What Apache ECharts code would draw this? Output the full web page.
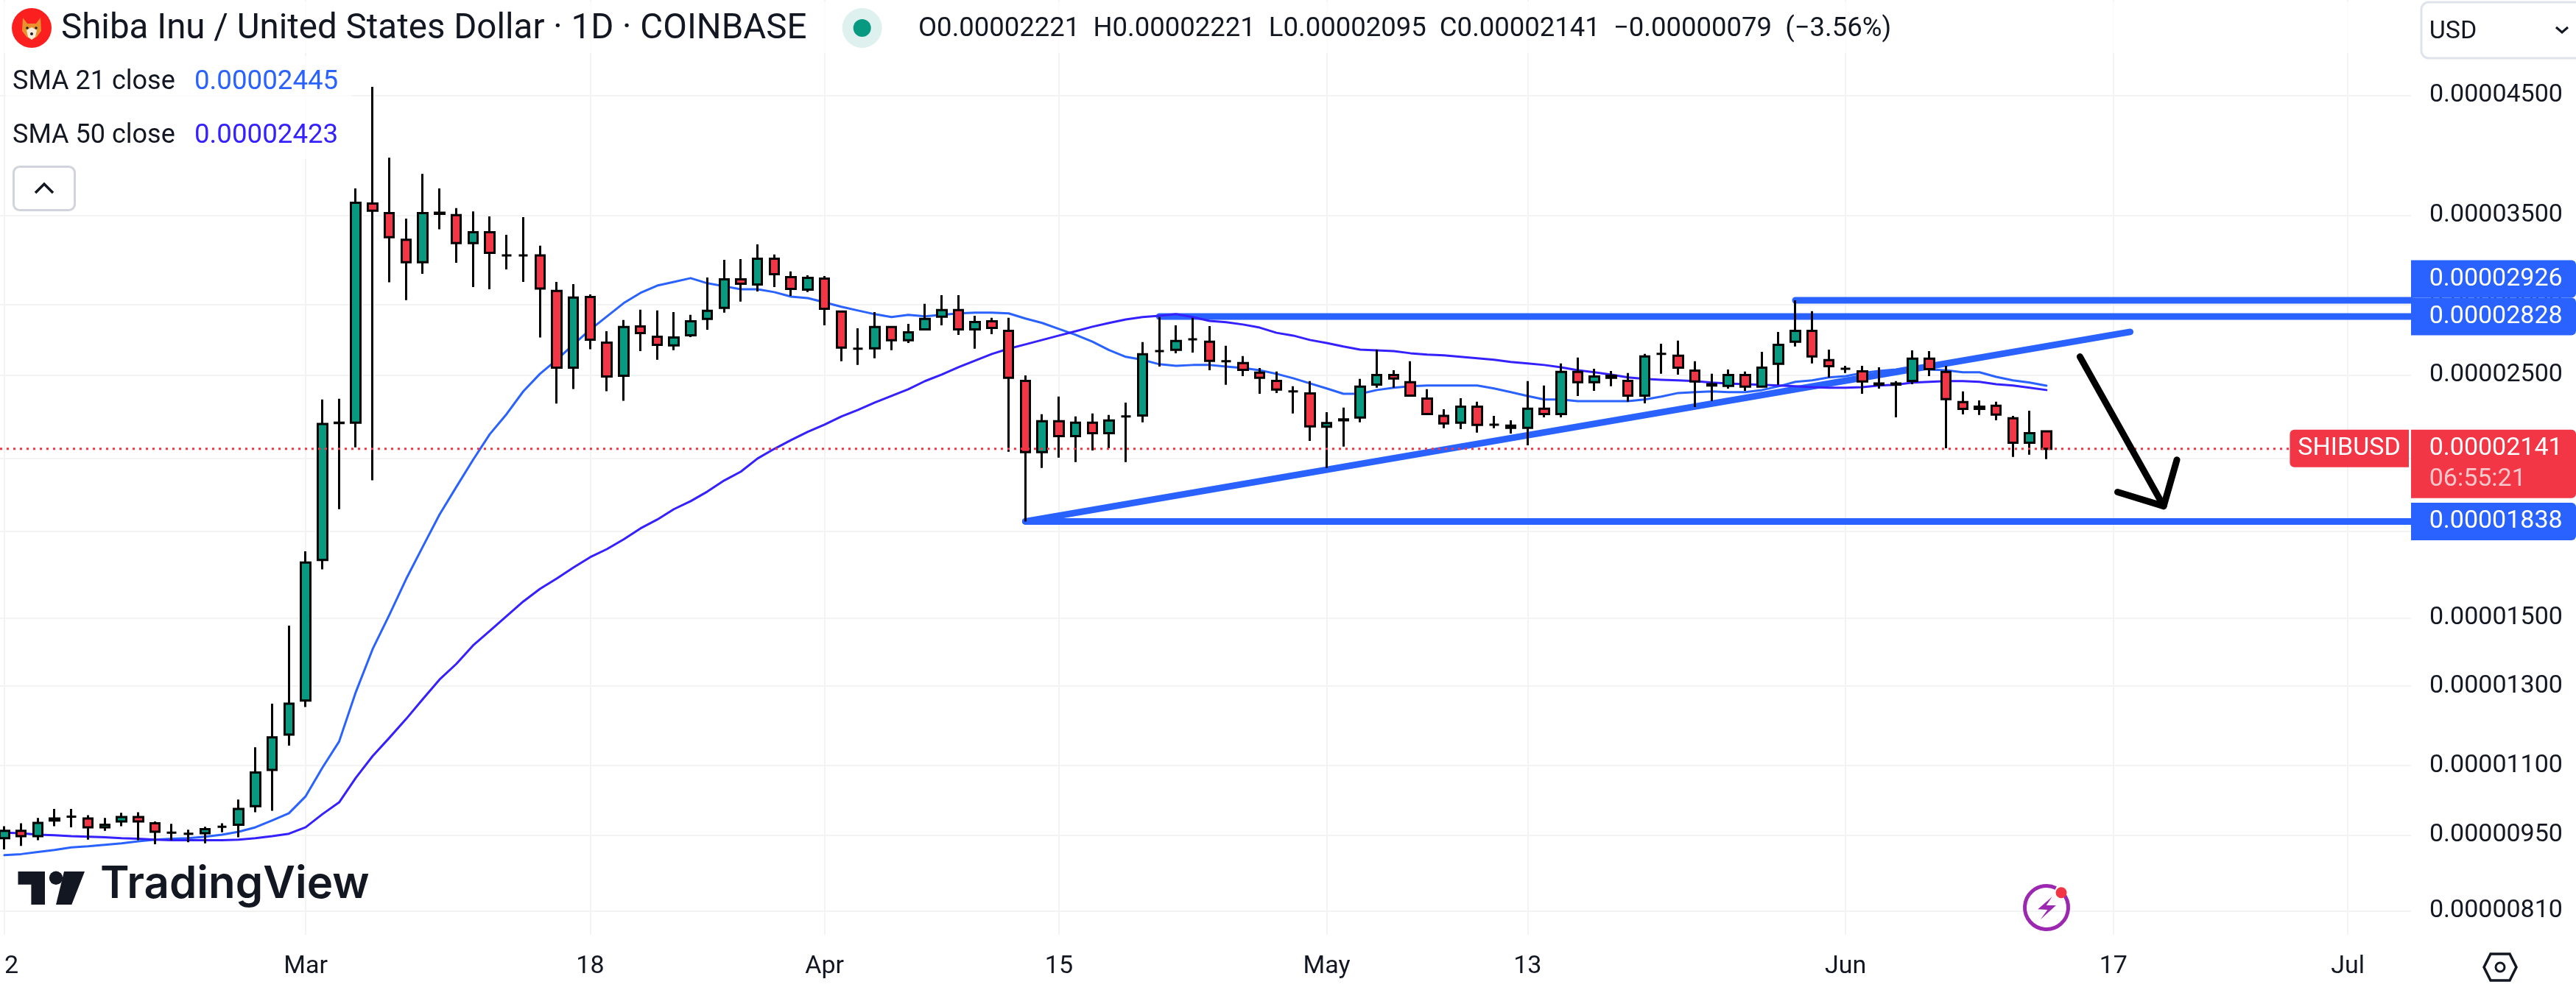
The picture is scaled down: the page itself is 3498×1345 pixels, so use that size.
<!DOCTYPE html>
<html><head><meta charset="utf-8">
<style>html,body{margin:0;padding:0;background:#fff}#c{width:3498px;height:1345px}</style>
<script src="https://cdn.jsdelivr.net/npm/echarts@6/dist/echarts.min.js"></script>
</head><body><div id="c"></div>
<script>
// Prices are in units of 0.00000001 USD.
const days = [
'2024-02-12','2024-02-13','2024-02-14','2024-02-15','2024-02-16','2024-02-17','2024-02-18','2024-02-19','2024-02-20','2024-02-21','2024-02-22','2024-02-23','2024-02-24','2024-02-25','2024-02-26','2024-02-27','2024-02-28','2024-02-29',
'2024-03-01','2024-03-02','2024-03-03','2024-03-04','2024-03-05','2024-03-06','2024-03-07','2024-03-08','2024-03-09','2024-03-10','2024-03-11','2024-03-12','2024-03-13','2024-03-14','2024-03-15','2024-03-16','2024-03-17','2024-03-18','2024-03-19','2024-03-20','2024-03-21','2024-03-22','2024-03-23','2024-03-24','2024-03-25','2024-03-26','2024-03-27','2024-03-28','2024-03-29','2024-03-30','2024-03-31',
'2024-04-01','2024-04-02','2024-04-03','2024-04-04','2024-04-05','2024-04-06','2024-04-07','2024-04-08','2024-04-09','2024-04-10','2024-04-11','2024-04-12','2024-04-13','2024-04-14','2024-04-15','2024-04-16','2024-04-17','2024-04-18','2024-04-19','2024-04-20','2024-04-21','2024-04-22','2024-04-23','2024-04-24','2024-04-25','2024-04-26','2024-04-27','2024-04-28','2024-04-29','2024-04-30',
'2024-05-01','2024-05-02','2024-05-03','2024-05-04','2024-05-05','2024-05-06','2024-05-07','2024-05-08','2024-05-09','2024-05-10','2024-05-11','2024-05-12','2024-05-13','2024-05-14','2024-05-15','2024-05-16','2024-05-17','2024-05-18','2024-05-19','2024-05-20','2024-05-21','2024-05-22','2024-05-23','2024-05-24','2024-05-25','2024-05-26','2024-05-27','2024-05-28','2024-05-29','2024-05-30','2024-05-31',
'2024-06-01','2024-06-02','2024-06-03','2024-06-04','2024-06-05','2024-06-06','2024-06-07','2024-06-08','2024-06-09','2024-06-10','2024-06-11','2024-06-12','2024-06-13'];
const opens = [
944,959,948,980,988,984,966,978,987,974,955,953,954,967,971,1010,1090,1174,
1261,1695,2260,2262,3587,3516,3323,3170,3518,3500,3300,3377,3216,3216,3216,2984,2540,2947,2677,2497,2770,2710,2661,2719,2814,2880,3058,3025,3194,3072,2993,
3063,2858,2643,2645,2766,2690,2753,2827,2867,2753,2800,2744,2470,2126,2269,2199,2262,2213,2292,2297,2630,2637,2696,2682,2574,2564,2513,2470,2416,2406,
2243,2278,2287,2451,2501,2463,2380,2295,2262,2340,2253,2248,2238,2330,2304,2517,2463,2497,2470,2395,2614,2604,2524,2453,2444,2501,2440,2560,2682,2744,2580,
2534,2520,2457,2451,2470,2588,2517,2362,2329,2344,2283,2169,2221];
const closes = [
959,948,975,984,988,966,971,987,978,957,955,953,962,967,1004,1084,1167,1253,
1686,2256,2262,3592,3533,3341,3170,3516,3510,3300,3377,3234,3216,3216,3000,2540,2943,2694,2493,2766,2731,2665,2706,2800,2862,3058,3030,3194,3092,2997,3068,
2875,2649,2643,2766,2690,2736,2814,2867,2753,2796,2761,2486,2126,2269,2199,2262,2213,2273,2292,2612,2630,2686,2696,2576,2574,2528,2486,2425,2416,2245,
2260,2274,2440,2501,2482,2395,2304,2259,2340,2252,2253,2238,2330,2304,2517,2463,2493,2486,2395,2600,2614,2540,2467,2446,2501,2440,2540,2665,2744,2600,2548,
2534,2467,2451,2457,2588,2532,2377,2329,2340,2301,2169,2213,2141];
const lows = [
922,929,940,968,966,941,959,968,940,932,940,936,934,956,946,997,1000,1147,
1244,1662,1886,2148,2004,3039,2927,3094,3398,3167,3009,2995,3123,3042,2706,2355,2428,2640,2417,2369,2630,2582,2635,2708,2751,2851,2918,2981,3009,2954,2977,
2776,2574,2554,2590,2635,2675,2746,2776,2721,2643,2725,2128,1838,2057,2102,2082,2134,2144,2082,2264,2546,2618,2622,2526,2450,2495,2404,2408,2306,2177,
2057,2151,2264,2435,2435,2390,2299,2236,2232,2215,2236,2211,2157,2288,2288,2393,2419,2442,2364,2356,2507,2503,2338,2367,2430,2419,2436,2450,2655,2562,2487,
2511,2404,2430,2288,2453,2495,2144,2302,2299,2274,2105,2115,2095];
const highs = [
968,974,985,1004,1004,991,985,996,997,978,973,961,967,974,1024,1143,1253,1476,
1726,2375,2379,3702,4584,3950,3475,3818,3702,3552,3527,3491,3359,3486,3282,3042,3028,2963,2742,2807,2869,2864,2855,2838,3070,3186,3191,3292,3222,3109,3084,
3080,2864,2759,2855,2772,2785,2905,2958,2958,2833,2820,2820,2499,2303,2390,2292,2306,2299,2360,2680,2825,2776,2820,2772,2659,2602,2538,2519,2442,2469,
2313,2335,2480,2638,2526,2574,2427,2327,2382,2364,2295,2274,2469,2446,2562,2594,2534,2522,2511,2614,2671,2688,2574,2507,2530,2519,2626,2738,2926,2860,2638,
2550,2550,2542,2469,2634,2630,2550,2416,2371,2364,2295,2320,2221];
const sma21 = [
911,913,917,921,926,928,931,934,938,941,943,944,947,951,957,966,980,995,
1031,1095,1157,1284,1405,1510,1628,1743,1865,1976,2092,2208,2303,2416,2507,2582,2667,2751,2829,2909,2972,3018,3042,3066,3033,3014,2995,2995,2977,2949,2940,
2914,2887,2864,2842,2825,2838,2829,2838,2847,2851,2851,2847,2816,2790,2755,2721,2683,2635,2598,2582,2558,2550,2554,2554,2546,2538,2526,2507,2484,2457,
2431,2404,2404,2423,2435,2442,2446,2446,2446,2446,2431,2412,2393,2375,2375,2367,2367,2367,2367,2375,2390,2408,2412,2416,2412,2412,2423,2442,2465,2473,2488,
2495,2511,2522,2530,2546,2530,2526,2515,2515,2491,2473,2461,2445];
const sma50 = [
955,954,951,950,948,947,946,944,943,941,940,940,940,940,941,944,948,953,
966,993,1018,1072,1122,1166,1213,1265,1318,1362,1416,1460,1506,1553,1595,1630,1668,1705,1734,1770,1811,1845,1886,1918,1957,2003,2041,2098,2141,2181,2219,
2253,2292,2324,2360,2393,2427,2469,2503,2542,2578,2614,2643,2667,2692,2717,2742,2768,2790,2811,2825,2833,2842,2825,2802,2794,2781,2763,2733,2717,2692,
2675,2655,2638,2634,2630,2618,2610,2606,2598,2590,2582,2570,2562,2554,2542,2526,2515,2503,2488,2480,2476,2473,2469,2461,2457,2453,2450,2446,2442,2438,2435,
2435,2438,2446,2450,2461,2465,2469,2469,2465,2453,2446,2435,2423];

const axisStart = '2024-02-11 17:45';
const axisEnd = '2024-07-04 18:45';
const priceMin = 770.5, priceMax = 5503;
const priceGrid = [4500,3500,2900,2500,2100,1800,1500,1300,1100,950,810];
const dateTicks = ['2024-02-12','2024-03-01','2024-03-18','2024-04-01','2024-04-15','2024-05-01','2024-05-13','2024-06-01','2024-06-17','2024-07-01'];
const dateLabels = ['12','Mar','18','Apr','15','May','13','Jun','17','Jul'];

const resistanceHigh = [['2024-05-29',2926],[axisEnd,2926]];
const resistanceLow  = [['2024-04-21',2828],[axisEnd,2828]];
const supportLine    = [['2024-04-13',1838],[axisEnd,1838]];
const risingTrend    = [['2024-04-13',1838],['2024-06-18',2738]];
const arrowShaft     = [['2024-06-15',2599],['2024-06-20',1898]];
const arrowHead      = [['2024-06-17 06:00',1955],['2024-06-20',1898],['2024-06-20 19:00',2092]];
const lastPriceLine  = [[axisStart,2141],['2024-06-27 12:00',2141]];

const lastPrice = 2141;
const BLUE = '#2962FF', INDIGO = '#3520FF', RED = '#F23645', GREEN = '#089981', INK = '#131722', GRID = '#F2F3F3';
const FONT = 'Roboto';
const fmt = v => (v/1e8).toFixed(8);

const tagPrices = [2926,2828,1838,lastPrice];
const tagShift  = [-29,0,0,0];
const tagColors = [BLUE,BLUE,BLUE,RED];
const countdown = '06:55:21';
const symbolTag = 'SHIBUSD';

// The date axis is linear in days counted from 2024-01-01.
const dayNo = s => (Date.parse(s.length===10 ? s+'T00:00Z' : s.replace(' ','T')+'Z') - Date.UTC(2024,0,1))/864e5;
const pts = a => a.map(p=>[dayNo(p[0]),p[1]]);
const xTickValues = dateTicks.map(dayNo);
const labelOf = {}; xTickValues.forEach((d,i)=>labelOf[d]=dateLabels[i]);

const txt = (text,x,y,size,fill,extra) => ({type:'text',z:20,style:Object.assign({text,x,y,fontSize:size,fontFamily:FONT,fill,textVerticalAlign:'middle',verticalAlign:'middle'},extra||{})});
const line = (data,color,width,z) => ({type:'line',data:pts(data),showSymbol:false,silent:true,z,animation:false,clip:true,
  lineStyle:{color,width,cap:'round',join:'round'},itemStyle:{color}});

const option = {
  animation:false,
  backgroundColor:'#ffffff',
  grid:{left:0,right:224,top:0,height:1270,containLabel:false,outerBoundsMode:'none'},
  xAxis:{type:'value',min:dayNo(axisStart),max:dayNo(axisEnd),
    axisLine:{show:false},
    axisTick:{show:false,customValues:xTickValues},
    splitLine:{show:true,lineStyle:{color:GRID,width:2}},
    minorSplitLine:{show:false},
    axisLabel:{customValues:xTickValues,color:INK,fontSize:34,fontFamily:FONT,margin:26,hideOverlap:false,showMinLabel:true,showMaxLabel:true,
      formatter:v=>labelOf[v]||''}},
  yAxis:{type:'log',logBase:10,min:priceMin,max:priceMax,position:'right',
    axisLine:{show:false},
    axisTick:{show:false,customValues:priceGrid},
    splitLine:{show:true,lineStyle:{color:GRID,width:2}},
    minorTick:{show:false},minorSplitLine:{show:false},
    axisLabel:{customValues:priceGrid,color:INK,fontSize:34,fontFamily:FONT,margin:25,formatter:v=>fmt(v)}},
  series:[
    line(resistanceHigh,BLUE,9,2),
    line(resistanceLow,BLUE,9,2),
    line(supportLine,BLUE,9,2),
    line(risingTrend,BLUE,9,2),
    line(days.map((d,i)=>[d,sma21[i]]),BLUE,3,3),
    line(days.map((d,i)=>[d,sma50[i]]),INDIGO,3,3.5),
    {type:'candlestick',z:4,silent:true,barWidth:13,clip:true,animation:false,
      encode:{x:0,y:[1,2,3,4]},
      data:days.map((d,i)=>[dayNo(d),opens[i],closes[i],lows[i],highs[i]]),
      itemStyle:{color:GREEN,color0:RED,borderColor:'#000',borderColor0:'#000',borderColorDoji:'#000',borderWidth:3}},
    Object.assign(line(lastPriceLine,RED,3,5),{lineStyle:{color:RED,width:3,type:[3,6],cap:'butt'}}),
    line(arrowShaft,'#000',9,6),
    line(arrowHead,'#000',9,6),
    {type:'custom',z:9,silent:true,animation:false,clip:false,
      encode:{x:0,y:1},
      data:tagPrices.map(p=>[dayNo(axisEnd),p]),
      renderItem(params,api){
        const i=params.dataIndex, cs=params.coordSys;
        const y=api.coord([api.value(0),api.value(1)])[1]+tagShift[i];
        const x0=cs.x+cs.width, w=3498-x0, last=tagPrices[i]===lastPrice;
        const h=last?93:51, top=last?y-26:y-25.5;
        const kids=[
          {type:'rect',shape:{x:x0,y:top,width:w,height:h,r:[0,6,6,0]},style:{fill:tagColors[i]}},
          {type:'text',style:{text:fmt(tagPrices[i]),x:3298.7,y:last?y:y+0.5,fill:'#fff',fontSize:34,fontFamily:FONT,verticalAlign:'middle',textVerticalAlign:'middle'}}
        ];
        if(last){
          kids.push({type:'text',style:{text:countdown,x:3298.7,y:y+42,fill:'rgba(255,255,255,0.72)',fontSize:34,fontFamily:FONT,verticalAlign:'middle',textVerticalAlign:'middle'}});
          kids.push({type:'rect',shape:{x:3109.4,y:top,width:161.6,height:51,r:[6,0,0,6]},style:{fill:RED}});
          kids.push({type:'text',style:{text:symbolTag,x:3190,y:y,fill:'#fff',fontSize:34,fontFamily:FONT,align:'center',textAlign:'center',verticalAlign:'middle',textVerticalAlign:'middle'}});
        }
        return {type:'group',children:kids};
      }}
  ],
  graphic:[
    {type:'rect',z:19,shape:{x:0,y:2,width:3280,height:70},style:{fill:'rgba(255,255,255,0.75)'}},
    {type:'rect',z:19,shape:{x:8,y:76,width:470,height:140},style:{fill:'rgba(255,255,255,0.75)'}},
    // symbol badge
    {type:'circle',z:20,shape:{cx:43,cy:38,r:27},style:{fill:'#FB1F1F'}},
    {type:'polygon',z:21,shape:{points:[[31,24],[37,32],[49,32],[55,24],[56,42],[50,50],[43,54],[36,50],[30,42]]},style:{fill:'#E8912D'}},
    {type:'polygon',z:22,shape:{points:[[36,41],[43,37],[50,41],[48,50],[43,54],[38,50]]},style:{fill:'#F6EBDD'}},
    {type:'circle',z:23,shape:{cx:37,cy:38,r:1.8},style:{fill:'#222'}},
    {type:'circle',z:23,shape:{cx:49,cy:38,r:1.8},style:{fill:'#222'}},
    {type:'circle',z:23,shape:{cx:43,cy:46,r:2},style:{fill:'#222'}},
    txt('Shiba Inu / United States Dollar · 1D · COINBASE',83,40,47.5,INK),
    {type:'circle',z:20,shape:{cx:1170.7,cy:38,r:27},style:{fill:'#DFF1EE'}},
    {type:'circle',z:21,shape:{cx:1170.7,cy:38,r:12},style:{fill:GREEN}},
    txt('O0.00002221  H0.00002221  L0.00002095  C0.00002141  −0.00000079  (−3.56%)',1247,40,36.5,INK),
    txt('SMA 21 close',17,112,36,INK),
    txt('0.00002445',264,112,36.7,BLUE),
    txt('SMA 50 close',17,185,36,INK),
    txt('0.00002423',264,185,36.7,INDIGO),
    {type:'rect',z:20,shape:{x:18.5,y:226.5,width:83,height:59,r:8},style:{fill:'#fff',stroke:'#D1D4DC',lineWidth:3}},
    {type:'polyline',z:21,shape:{points:[[48,262],[60,250],[72,262]]},style:{fill:null,stroke:INK,lineWidth:3.5}},
    // USD box
    {type:'rect',z:20,shape:{x:3288,y:3,width:230,height:76,r:10},style:{fill:'#fff',stroke:'#E0E3EB',lineWidth:3}},
    txt('USD',3298.7,43,34,INK),
    {type:'polyline',z:21,shape:{points:[[3471,37],[3479,44],[3487,37]]},style:{fill:null,stroke:INK,lineWidth:3}},
    // TradingView wordmark
    {type:'polygon',z:20,shape:{points:[[24.5,1184],[61,1184],[61,1229],[42.4,1229],[42.4,1201.7],[24.5,1201.7]]},style:{fill:INK}},
    {type:'circle',z:20,shape:{cx:76,cy:1192.7,r:9.2},style:{fill:INK}},
    {type:'polygon',z:20,shape:{points:[[87,1184],[115,1184],[97.3,1229],[76,1229]]},style:{fill:INK}},
    {type:'text',z:20,style:{text:'TradingView',x:136,y:1232,fontSize:60,fontWeight:600,fontFamily:'Inter',fill:INK,textVerticalAlign:'bottom',verticalAlign:'bottom'}},
    // lightning badge
    {type:'arc',z:20,shape:{cx:2779,cy:1233,r:29.5,startAngle:-0.3*Math.PI+0.22,endAngle:-0.3*Math.PI-0.18,clockwise:true},style:{fill:null,stroke:'#9C27B0',lineWidth:5}},
    {type:'polygon',z:20,shape:{points:[[2786.7,1218.3],[2767.2,1235.3],[2780.4,1236],[2770.7,1249.3],[2791.9,1230],[2778.7,1230]]},style:{fill:'#9C27B0'}},
    {type:'circle',z:21,shape:{cx:2799,cy:1212.7,r:7.5},style:{fill:RED}},
    // settings
    {type:'polygon',z:20,shape:{points:[[3382,1296],[3408,1296],[3417,1314],[3408,1332],[3382,1332],[3373,1314]]},style:{fill:'#fff',stroke:INK,lineWidth:3.5}},
    {type:'circle',z:21,shape:{cx:3395,cy:1314,r:6},style:{fill:'#fff',stroke:INK,lineWidth:3}}
  ]
};
const chart = echarts.init(document.getElementById('c'),null,{renderer:'canvas',width:3498,height:1345,devicePixelRatio:1});
chart.setOption(option);
</script></body></html>
